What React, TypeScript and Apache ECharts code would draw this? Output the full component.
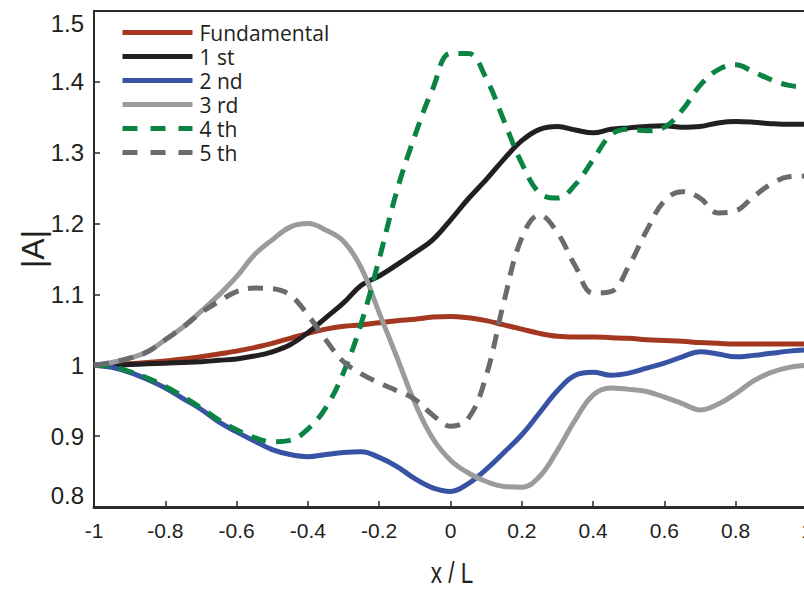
import React, { useEffect, useRef } from "react";
import * as echarts from "echarts";

const xValues = [-1, -0.95, -0.9, -0.85, -0.8, -0.75, -0.7, -0.65, -0.6, -0.55, -0.5, -0.45, -0.4, -0.35, -0.3, -0.25, -0.2, -0.15, -0.1, -0.05, 0, 0.05, 0.1, 0.15, 0.2, 0.25, 0.3, 0.35, 0.4, 0.45, 0.5, 0.55, 0.6, 0.65, 0.7, 0.75, 0.8, 0.85, 0.9, 0.95, 1];

const fundamental = [1.0, 1.001, 1.002, 1.004, 1.006, 1.009, 1.012, 1.016, 1.02, 1.025, 1.031, 1.038, 1.045, 1.051, 1.055, 1.057, 1.06, 1.063, 1.065, 1.068, 1.069, 1.067, 1.063, 1.057, 1.051, 1.045, 1.041, 1.04, 1.04, 1.039, 1.038, 1.036, 1.035, 1.034, 1.032, 1.031, 1.03, 1.03, 1.03, 1.03, 1.03];
const first = [1.0, 1.0, 1.001, 1.002, 1.003, 1.004, 1.005, 1.007, 1.009, 1.013, 1.019, 1.029, 1.046, 1.067, 1.088, 1.113, 1.126, 1.142, 1.159, 1.177, 1.205, 1.235, 1.262, 1.291, 1.317, 1.333, 1.337, 1.332, 1.328, 1.333, 1.335, 1.337, 1.338, 1.336, 1.337, 1.342, 1.344, 1.343, 1.341, 1.34, 1.34];
const second = [1.0, 0.997, 0.99, 0.98, 0.968, 0.953, 0.938, 0.92, 0.906, 0.893, 0.881, 0.874, 0.871, 0.874, 0.877, 0.878, 0.87, 0.857, 0.84, 0.827, 0.822, 0.833, 0.853, 0.877, 0.902, 0.933, 0.964, 0.986, 0.99, 0.986, 0.989, 0.996, 1.003, 1.012, 1.019, 1.016, 1.012, 1.014, 1.017, 1.02, 1.022];
const third = [1.0, 1.004, 1.01, 1.019, 1.036, 1.054, 1.076, 1.099, 1.125, 1.156, 1.177, 1.195, 1.2, 1.191, 1.175, 1.137, 1.074, 1.011, 0.947, 0.897, 0.866, 0.848, 0.836, 0.829, 0.828, 0.843, 0.88, 0.923, 0.958, 0.968, 0.966, 0.963, 0.955, 0.946, 0.937, 0.945, 0.96, 0.978, 0.99, 0.997, 1.0];
const fourth = [1.0, 0.998, 0.991, 0.982, 0.97, 0.956, 0.94, 0.923, 0.909, 0.898, 0.892, 0.894, 0.91, 0.94, 0.99, 1.06, 1.15, 1.247, 1.324, 1.39, 1.44, 1.44, 1.405, 1.345, 1.285, 1.243, 1.236, 1.255, 1.29, 1.325, 1.333, 1.331, 1.336, 1.36, 1.395, 1.417, 1.424, 1.414, 1.403, 1.395, 1.392];
const fifth = [1.0, 1.004, 1.01, 1.019, 1.036, 1.054, 1.074, 1.09, 1.104, 1.109, 1.108, 1.099, 1.071, 1.036, 1.005, 0.988, 0.975, 0.964, 0.952, 0.93, 0.914, 0.925, 0.985, 1.09, 1.18, 1.212, 1.187, 1.14, 1.102, 1.104, 1.14, 1.19, 1.232, 1.245, 1.236, 1.215, 1.218, 1.238, 1.256, 1.266, 1.267];

const seriesNames = ["Fundamental", "1 st", "2 nd", "3 rd", "4 th", "5 th"];
const seriesColors = ["#a3371f", "#231f20", "#3953a4", "#9a9b9e", "#0b8443", "#6a6b6e"];
const seriesDashed = [false, false, false, false, true, true];
const seriesValues = [fundamental, first, second, third, fourth, fifth];

const SANS = "'Liberation Sans', Arial, sans-serif";

export default function App() {
  const ref = useRef<HTMLDivElement>(null);
  useEffect(() => {
    if (!ref.current) return;
    const chart = echarts.init(ref.current, null, { renderer: "svg" });
    const series = seriesNames.map((name, i) => ({
      name,
      type: "line",
      data: xValues.map((x, k) => [x, seriesValues[i][k]]),
      smooth: 0.4,
      symbol: "none",
      showSymbol: false,
      lineStyle: {
        color: seriesColors[i],
        width: 5,
        type: seriesDashed[i] ? [15, 10] : "solid",
        cap: "butt",
      },
      itemStyle: { color: seriesColors[i] },
      emphasis: { disabled: true },
    }));
    chart.setOption({
      animation: false,
      backgroundColor: "#ffffff",
      grid: {
        left: 94,
        right: -3,
        top: 11,
        bottom: 83,
        show: true,
        borderColor: "#2b2b2b",
        borderWidth: 2,
        containLabel: false,
        outerBoundsMode: "none",
      },
      legend: {
        orient: "vertical",
        left: 120,
        top: 22,
        padding: 0,
        itemWidth: 70,
        itemHeight: 14,
        itemGap: 3,
        lineStyle: { width: 5 },
        textStyle: {
          fontFamily: "'Open Sans', sans-serif",
          fontSize: 21,
          lineHeight: 21,
          color: "#231f20",
          padding: [0, 0, 0, 2],
        },
        data: seriesNames.map((name, i) => ({
          name,
          itemStyle: { opacity: 0 },
          lineStyle: {
            color: seriesColors[i],
            width: 5,
            type: seriesDashed[i] ? [15, 13] : "solid",
          },
        })),
      },
      xAxis: {
        type: "value",
        min: -1,
        max: 1,
        interval: 0.2,
        splitLine: { show: false },
        axisLine: { show: true, onZero: false, lineStyle: { color: "#2b2b2b", width: 3 } },
        axisTick: { show: true, inside: true, length: 6, lineStyle: { color: "#2b2b2b", width: 1.5 } },
        axisLabel: {
          margin: 13,
          fontFamily: SANS,
          fontSize: 21,
          color: "#231f20",
        },
      },
      yAxis: {
        type: "value",
        min: 0.8,
        max: 1.5,
        interval: 0.1,
        splitLine: { show: false },
        axisLine: { show: true, onZero: false, lineStyle: { color: "#2b2b2b", width: 2 } },
        axisTick: { show: true, inside: true, length: 6, lineStyle: { color: "#2b2b2b", width: 1.5 } },
        axisLabel: {
          margin: 10,
          fontFamily: SANS,
          fontSize: 24,
          color: "#231f20",
          verticalAlignMaxLabel: "top",
          verticalAlignMinLabel: "bottom",
        },
      },
      graphic: [
        {
          type: "text",
          x: 33,
          y: 249,
          rotation: Math.PI / 2,
          style: {
            text: "|A|",
            fontFamily: SANS,
            fontSize: 32,
            fill: "#231f20",
            textAlign: "center",
            textVerticalAlign: "middle",
          },
        },
        {
          type: "text",
          x: 452,
          y: 573,
          scaleX: 0.75,
          style: {
            text: "x / L",
            fontFamily: SANS,
            fontSize: 30,
            fill: "#231f20",
            textAlign: "center",
            textVerticalAlign: "middle",
          },
        },
      ],
      series,
    });
    return () => chart.dispose();
  }, []);
  return (
    <div
      ref={ref}
      style={{ position: "fixed", left: 0, top: 0, width: 804, height: 590 }}
    />
  );
}
